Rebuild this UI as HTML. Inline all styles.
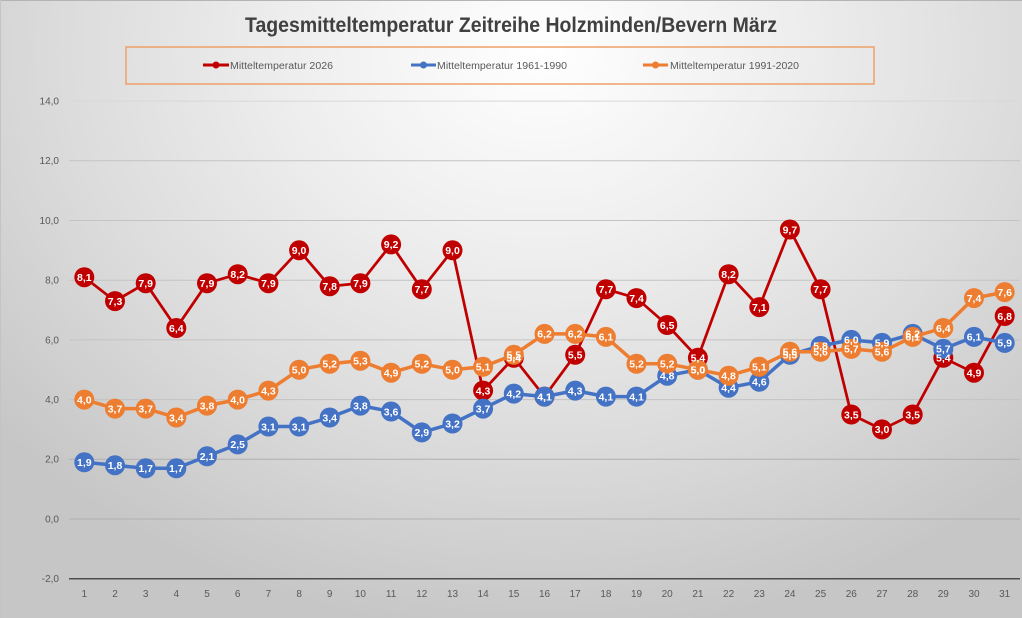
<!DOCTYPE html>
<html><head><meta charset="utf-8"><style>
html,body{margin:0;padding:0;}
body{width:1022px;height:618px;overflow:hidden;}
.bg{position:absolute;left:0;top:0;width:1022px;height:618px;
background:radial-gradient(ellipse 70% 95% at 53% 8%, #ffffff 0%, #eeeeee 35%, #dadada 70%, #c6c6c6 100%);}
svg{position:absolute;left:0;top:0;}
text{font-family:"Liberation Sans",Arial,sans-serif;}
.lab{font-size:10.5px;font-weight:bold;fill:#ffffff;text-anchor:middle;}
.ax{font-size:10px;fill:#595959;}
</style></head><body>
<div class="bg"></div>
<svg width="1022" height="618" viewBox="0 0 1022 618">
<line x1="0" y1="0.5" x2="1022" y2="0.5" stroke="#b4b4b4" stroke-width="1"/>
<line x1="0.5" y1="0" x2="0.5" y2="618" stroke="#c4c4c4" stroke-width="1"/>
<text x="511" y="32" text-anchor="middle" font-size="21" font-weight="bold" fill="#404040" textLength="532" lengthAdjust="spacingAndGlyphs">Tagesmitteltemperatur Zeitreihe Holzminden/Bevern März</text>
<rect x="126" y="47" width="748" height="37" fill="none" stroke="#f0a06a" stroke-width="1.5"/>
<line x1="203" y1="65" x2="229" y2="65" stroke="#c00000" stroke-width="3"/><circle cx="216" cy="65" r="3.5" fill="#c00000"/>
<text x="230" y="69" class="ax" textLength="103" lengthAdjust="spacingAndGlyphs">Mitteltemperatur 2026</text>
<line x1="411" y1="65" x2="436" y2="65" stroke="#4472c4" stroke-width="3"/><circle cx="423.5" cy="65" r="3.5" fill="#4472c4"/>
<text x="437" y="69" class="ax" textLength="130" lengthAdjust="spacingAndGlyphs">Mitteltemperatur 1961-1990</text>
<line x1="643" y1="65" x2="668" y2="65" stroke="#ed7d31" stroke-width="3"/><circle cx="655.5" cy="65" r="3.5" fill="#ed7d31"/>
<text x="670" y="69" class="ax" textLength="129" lengthAdjust="spacingAndGlyphs">Mitteltemperatur 1991-2020</text>

<g stroke="#c3c3c3" stroke-width="1">
<line x1="69" y1="101.1" x2="1020" y2="101.1" stroke="#d8d8d8"/>
<line x1="69" y1="160.8" x2="1020" y2="160.8"/>
<line x1="69" y1="220.5" x2="1020" y2="220.5"/>
<line x1="69" y1="280.2" x2="1020" y2="280.2"/>
<line x1="69" y1="339.9" x2="1020" y2="339.9"/>
<line x1="69" y1="399.6" x2="1020" y2="399.6"/>
<line x1="69" y1="459.3" x2="1020" y2="459.3" stroke="#b0b0b0"/>
<line x1="69" y1="519" x2="1020" y2="519" stroke="#b0b0b0"/>
</g>
<line x1="69" y1="578.7" x2="1020" y2="578.7" stroke="#4d4d4d" stroke-width="1.5"/>

<g class="ax" text-anchor="end">
<text x="59" y="104.5" text-anchor="end">14,0</text>
<text x="59" y="164.2" text-anchor="end">12,0</text>
<text x="59" y="223.9" text-anchor="end">10,0</text>
<text x="59" y="283.6" text-anchor="end">8,0</text>
<text x="59" y="343.3" text-anchor="end">6,0</text>
<text x="59" y="403" text-anchor="end">4,0</text>
<text x="59" y="462.7" text-anchor="end">2,0</text>
<text x="59" y="522.4" text-anchor="end">0,0</text>
<text x="59" y="582.1" text-anchor="end">-2,0</text>
</g>
<g class="ax" text-anchor="middle">
<text x="84.3" y="597" text-anchor="middle">1</text>
<text x="115.0" y="597" text-anchor="middle">2</text>
<text x="145.7" y="597" text-anchor="middle">3</text>
<text x="176.3" y="597" text-anchor="middle">4</text>
<text x="207.0" y="597" text-anchor="middle">5</text>
<text x="237.7" y="597" text-anchor="middle">6</text>
<text x="268.4" y="597" text-anchor="middle">7</text>
<text x="299.1" y="597" text-anchor="middle">8</text>
<text x="329.7" y="597" text-anchor="middle">9</text>
<text x="360.4" y="597" text-anchor="middle">10</text>
<text x="391.1" y="597" text-anchor="middle">11</text>
<text x="421.8" y="597" text-anchor="middle">12</text>
<text x="452.5" y="597" text-anchor="middle">13</text>
<text x="483.1" y="597" text-anchor="middle">14</text>
<text x="513.8" y="597" text-anchor="middle">15</text>
<text x="544.5" y="597" text-anchor="middle">16</text>
<text x="575.2" y="597" text-anchor="middle">17</text>
<text x="605.9" y="597" text-anchor="middle">18</text>
<text x="636.5" y="597" text-anchor="middle">19</text>
<text x="667.2" y="597" text-anchor="middle">20</text>
<text x="697.9" y="597" text-anchor="middle">21</text>
<text x="728.6" y="597" text-anchor="middle">22</text>
<text x="759.3" y="597" text-anchor="middle">23</text>
<text x="789.9" y="597" text-anchor="middle">24</text>
<text x="820.6" y="597" text-anchor="middle">25</text>
<text x="851.3" y="597" text-anchor="middle">26</text>
<text x="882.0" y="597" text-anchor="middle">27</text>
<text x="912.7" y="597" text-anchor="middle">28</text>
<text x="943.3" y="597" text-anchor="middle">29</text>
<text x="974.0" y="597" text-anchor="middle">30</text>
<text x="1004.7" y="597" text-anchor="middle">31</text>
</g>

<!-- Red series -->
<polyline fill="none" stroke="#c00000" stroke-width="2.75" stroke-linejoin="round" points="84.3,277.2 115.0,301.1 145.7,283.2 176.3,328.0 207.0,283.2 237.7,274.2 268.4,283.2 299.1,250.3 329.7,286.2 360.4,283.2 391.1,244.4 421.8,289.2 452.5,250.3 483.1,390.6 513.8,357.8 544.5,396.6 575.2,354.8 605.9,289.2 636.5,298.1 667.2,325.0 697.9,357.8 728.6,274.2 759.3,307.1 789.9,229.5 820.6,289.2 851.3,414.5 882.0,429.4 912.7,414.5 943.3,357.8 974.0,372.7 1004.7,316.0"/>
<g fill="#c00000">
<circle cx="84.3" cy="277.2" r="10"/><circle cx="115.0" cy="301.1" r="10"/><circle cx="145.7" cy="283.2" r="10"/><circle cx="176.3" cy="328.0" r="10"/><circle cx="207.0" cy="283.2" r="10"/><circle cx="237.7" cy="274.2" r="10"/><circle cx="268.4" cy="283.2" r="10"/><circle cx="299.1" cy="250.3" r="10"/><circle cx="329.7" cy="286.2" r="10"/><circle cx="360.4" cy="283.2" r="10"/><circle cx="391.1" cy="244.4" r="10"/><circle cx="421.8" cy="289.2" r="10"/><circle cx="452.5" cy="250.3" r="10"/><circle cx="483.1" cy="390.6" r="10"/><circle cx="513.8" cy="357.8" r="10"/><circle cx="544.5" cy="396.6" r="10"/><circle cx="575.2" cy="354.8" r="10"/><circle cx="605.9" cy="289.2" r="10"/><circle cx="636.5" cy="298.1" r="10"/><circle cx="667.2" cy="325.0" r="10"/><circle cx="697.9" cy="357.8" r="10"/><circle cx="728.6" cy="274.2" r="10"/><circle cx="759.3" cy="307.1" r="10"/><circle cx="789.9" cy="229.5" r="10"/><circle cx="820.6" cy="289.2" r="10"/><circle cx="851.3" cy="414.5" r="10"/><circle cx="882.0" cy="429.4" r="10"/><circle cx="912.7" cy="414.5" r="10"/><circle cx="943.3" cy="357.8" r="10"/><circle cx="974.0" cy="372.7" r="10"/><circle cx="1004.7" cy="316.0" r="10"/>
</g>

<!-- Blue series -->
<polyline fill="none" stroke="#4472c4" stroke-width="3.5" stroke-linejoin="round" points="84.3,462.3 115.0,465.3 145.7,468.3 176.3,468.3 207.0,456.3 237.7,444.4 268.4,426.5 299.1,426.5 329.7,417.5 360.4,405.6 391.1,411.5 421.8,432.4 452.5,423.5 483.1,408.6 513.8,393.6 544.5,396.6 575.2,390.6 605.9,396.6 636.5,396.6 667.2,375.7 697.9,369.7 728.6,387.7 759.3,381.7 789.9,354.8 820.6,345.9 851.3,339.9 882.0,342.9 912.7,333.9 943.3,348.9 974.0,336.9 1004.7,342.9"/>
<g fill="#4472c4">
<circle cx="84.3" cy="462.3" r="10"/><circle cx="115.0" cy="465.3" r="10"/><circle cx="145.7" cy="468.3" r="10"/><circle cx="176.3" cy="468.3" r="10"/><circle cx="207.0" cy="456.3" r="10"/><circle cx="237.7" cy="444.4" r="10"/><circle cx="268.4" cy="426.5" r="10"/><circle cx="299.1" cy="426.5" r="10"/><circle cx="329.7" cy="417.5" r="10"/><circle cx="360.4" cy="405.6" r="10"/><circle cx="391.1" cy="411.5" r="10"/><circle cx="421.8" cy="432.4" r="10"/><circle cx="452.5" cy="423.5" r="10"/><circle cx="483.1" cy="408.6" r="10"/><circle cx="513.8" cy="393.6" r="10"/><circle cx="544.5" cy="396.6" r="10"/><circle cx="575.2" cy="390.6" r="10"/><circle cx="605.9" cy="396.6" r="10"/><circle cx="636.5" cy="396.6" r="10"/><circle cx="667.2" cy="375.7" r="10"/><circle cx="697.9" cy="369.7" r="10"/><circle cx="728.6" cy="387.7" r="10"/><circle cx="759.3" cy="381.7" r="10"/><circle cx="789.9" cy="354.8" r="10"/><circle cx="820.6" cy="345.9" r="10"/><circle cx="851.3" cy="339.9" r="10"/><circle cx="882.0" cy="342.9" r="10"/><circle cx="912.7" cy="333.9" r="10"/><circle cx="943.3" cy="348.9" r="10"/><circle cx="974.0" cy="336.9" r="10"/><circle cx="1004.7" cy="342.9" r="10"/>
</g>

<!-- Orange series -->
<polyline fill="none" stroke="#ed7d31" stroke-width="3.5" stroke-linejoin="round" points="84.3,399.6 115.0,408.6 145.7,408.6 176.3,417.5 207.0,405.6 237.7,399.6 268.4,390.6 299.1,369.7 329.7,363.8 360.4,360.8 391.1,372.7 421.8,363.8 452.5,369.7 483.1,366.8 513.8,354.8 544.5,333.9 575.2,333.9 605.9,336.9 636.5,363.8 667.2,363.8 697.9,369.7 728.6,375.7 759.3,366.8 789.9,351.8 820.6,351.8 851.3,348.9 882.0,351.8 912.7,336.9 943.3,328.0 974.0,298.1 1004.7,292.1"/>
<g fill="#ed7d31">
<circle cx="84.3" cy="399.6" r="10"/><circle cx="115.0" cy="408.6" r="10"/><circle cx="145.7" cy="408.6" r="10"/><circle cx="176.3" cy="417.5" r="10"/><circle cx="207.0" cy="405.6" r="10"/><circle cx="237.7" cy="399.6" r="10"/><circle cx="268.4" cy="390.6" r="10"/><circle cx="299.1" cy="369.7" r="10"/><circle cx="329.7" cy="363.8" r="10"/><circle cx="360.4" cy="360.8" r="10"/><circle cx="391.1" cy="372.7" r="10"/><circle cx="421.8" cy="363.8" r="10"/><circle cx="452.5" cy="369.7" r="10"/><circle cx="483.1" cy="366.8" r="10"/><circle cx="513.8" cy="354.8" r="10"/><circle cx="544.5" cy="333.9" r="10"/><circle cx="575.2" cy="333.9" r="10"/><circle cx="605.9" cy="336.9" r="10"/><circle cx="636.5" cy="363.8" r="10"/><circle cx="667.2" cy="363.8" r="10"/><circle cx="697.9" cy="369.7" r="10"/><circle cx="728.6" cy="375.7" r="10"/><circle cx="759.3" cy="366.8" r="10"/><circle cx="789.9" cy="351.8" r="10"/><circle cx="820.6" cy="351.8" r="10"/><circle cx="851.3" cy="348.9" r="10"/><circle cx="882.0" cy="351.8" r="10"/><circle cx="912.7" cy="336.9" r="10"/><circle cx="943.3" cy="328.0" r="10"/><circle cx="974.0" cy="298.1" r="10"/><circle cx="1004.7" cy="292.1" r="10"/>
</g>

<!-- Labels red -->
<g class="lab">
<text x="84.3" y="281" class="lab">8,1</text><text x="115.0" y="305" class="lab">7,3</text><text x="145.7" y="287" class="lab">7,9</text><text x="176.3" y="332" class="lab">6,4</text><text x="207.0" y="287" class="lab">7,9</text><text x="237.7" y="278" class="lab">8,2</text><text x="268.4" y="287" class="lab">7,9</text><text x="299.1" y="254" class="lab">9,0</text><text x="329.7" y="290" class="lab">7,8</text><text x="360.4" y="287" class="lab">7,9</text><text x="391.1" y="248" class="lab">9,2</text><text x="421.8" y="293" class="lab">7,7</text><text x="452.5" y="254" class="lab">9,0</text><text x="483.1" y="394.4" class="lab">4,3</text><text x="513.8" y="361.6" class="lab">5,4</text><text x="544.5" y="400.4" class="lab">4,1</text><text x="575.2" y="358.6" class="lab">5,5</text><text x="605.9" y="293" class="lab">7,7</text><text x="636.5" y="302" class="lab">7,4</text><text x="667.2" y="329" class="lab">6,5</text><text x="697.9" y="361.6" class="lab">5,4</text><text x="728.6" y="278" class="lab">8,2</text><text x="759.3" y="311" class="lab">7,1</text><text x="789.9" y="233.3" class="lab">9,7</text><text x="820.6" y="293" class="lab">7,7</text><text x="851.3" y="418.3" class="lab">3,5</text><text x="882.0" y="433.2" class="lab">3,0</text><text x="912.7" y="418.3" class="lab">3,5</text><text x="943.3" y="361.6" class="lab">5,4</text><text x="974.0" y="376.5" class="lab">4,9</text><text x="1004.7" y="319.8" class="lab">6,8</text>
</g>
<!-- Labels blue -->
<g class="lab">
<text x="84.3" y="466.1" class="lab">1,9</text><text x="115.0" y="469.1" class="lab">1,8</text><text x="145.7" y="472.1" class="lab">1,7</text><text x="176.3" y="472.1" class="lab">1,7</text><text x="207.0" y="460.1" class="lab">2,1</text><text x="237.7" y="448.2" class="lab">2,5</text><text x="268.4" y="430.3" class="lab">3,1</text><text x="299.1" y="430.3" class="lab">3,1</text><text x="329.7" y="421.3" class="lab">3,4</text><text x="360.4" y="409.4" class="lab">3,8</text><text x="391.1" y="415.3" class="lab">3,6</text><text x="421.8" y="436.2" class="lab">2,9</text><text x="452.5" y="427.3" class="lab">3,2</text><text x="483.1" y="412.4" class="lab">3,7</text><text x="513.8" y="397.4" class="lab">4,2</text><text x="544.5" y="400.4" class="lab">4,1</text><text x="575.2" y="394.4" class="lab">4,3</text><text x="605.9" y="400.4" class="lab">4,1</text><text x="636.5" y="400.4" class="lab">4,1</text><text x="667.2" y="379.5" class="lab">4,8</text><text x="697.9" y="373.5" class="lab">5,0</text><text x="728.6" y="391.5" class="lab">4,4</text><text x="759.3" y="385.5" class="lab">4,6</text><text x="789.9" y="358.6" class="lab">5,5</text><text x="820.6" y="349.7" class="lab">5,8</text><text x="851.3" y="343.7" class="lab">6,0</text><text x="882.0" y="346.7" class="lab">5,9</text><text x="912.7" y="337.7" class="lab">6,2</text><text x="943.3" y="352.7" class="lab">5,7</text><text x="974.0" y="340.7" class="lab">6,1</text><text x="1004.7" y="346.7" class="lab">5,9</text>
</g>
<!-- Labels orange -->
<g class="lab">
<text x="84.3" y="403.4" class="lab">4,0</text><text x="115.0" y="412.4" class="lab">3,7</text><text x="145.7" y="412.4" class="lab">3,7</text><text x="176.3" y="421.3" class="lab">3,4</text><text x="207.0" y="409.4" class="lab">3,8</text><text x="237.7" y="403.4" class="lab">4,0</text><text x="268.4" y="394.4" class="lab">4,3</text><text x="299.1" y="373.5" class="lab">5,0</text><text x="329.7" y="367.6" class="lab">5,2</text><text x="360.4" y="364.6" class="lab">5,3</text><text x="391.1" y="376.5" class="lab">4,9</text><text x="421.8" y="367.6" class="lab">5,2</text><text x="452.5" y="373.5" class="lab">5,0</text><text x="483.1" y="370.6" class="lab">5,1</text><text x="513.8" y="358.6" class="lab">5,5</text><text x="544.5" y="337.7" class="lab">6,2</text><text x="575.2" y="337.7" class="lab">6,2</text><text x="605.9" y="340.7" class="lab">6,1</text><text x="636.5" y="367.6" class="lab">5,2</text><text x="667.2" y="367.6" class="lab">5,2</text><text x="697.9" y="373.5" class="lab">5,0</text><text x="728.6" y="379.5" class="lab">4,8</text><text x="759.3" y="370.6" class="lab">5,1</text><text x="789.9" y="355.6" class="lab">5,6</text><text x="820.6" y="355.6" class="lab">5,6</text><text x="851.3" y="352.7" class="lab">5,7</text><text x="882.0" y="355.6" class="lab">5,6</text><text x="912.7" y="340.7" class="lab">6,1</text><text x="943.3" y="331.8" class="lab">6,4</text><text x="974.0" y="301.9" class="lab">7,4</text><text x="1004.7" y="295.9" class="lab">7,6</text>
</g>
</svg>
</body></html>
